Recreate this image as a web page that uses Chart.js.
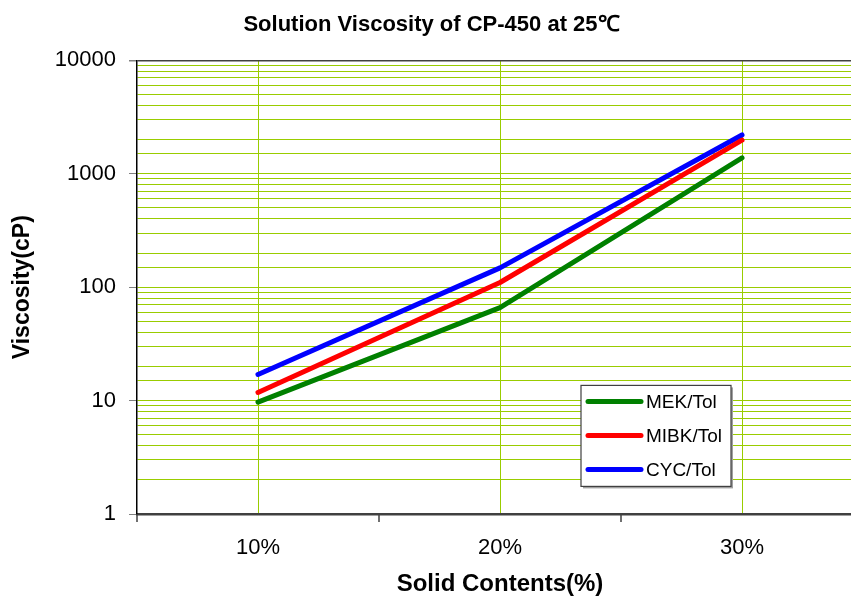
<!DOCTYPE html>
<html>
<head>
<meta charset="utf-8">
<script src="https://cdn.jsdelivr.net/npm/chart.js@4/dist/chart.umd.min.js"></script>
<style>
  html, body { margin: 0; padding: 0; background: #fff; overflow: hidden; }
  #wrap { width: 851px; height: 598px; overflow: hidden; }
</style>
</head>
<body>
<div id="wrap"><canvas id="chart" width="900" height="598"></canvas></div>
<script>
const categories = ['10%', '20%', '30%'];
const mekTol = [9.7, 66, 1380];
const mibkTol = [11.8, 110, 1980];
const cycTol = [17, 148, 2200];
const yTickLabels = [1, 10, 100, 1000, 10000];

const FONT = "'Liberation Sans', Arial, sans-serif";
const GRID_GREEN = '#99cc00';

// tick marks on category boundaries + excel-like legend box
const extras = {
  id: 'extras',
  afterDraw(chart){
    const ctx = chart.ctx;
    const x = chart.scales.x;
    const area = chart.chartArea;
    const half = (x.getPixelForValue(1) - x.getPixelForValue(0)) / 2;

    ctx.save();
    ctx.strokeStyle = '#404040';
    ctx.lineWidth = 1.5;
    for(let i = 0; i <= categories.length; i++){
      const px = x.getPixelForValue(0) - half + i * half * 2;
      ctx.beginPath();
      ctx.moveTo(px, area.bottom);
      ctx.lineTo(px, area.bottom + 8);
      ctx.stroke();
    }

    // legend
    const lx = area.left + 444, ly = area.top + 325, lw = 150, lh = 101;
    ctx.fillStyle = '#a0a0a0';
    ctx.fillRect(lx + 2, ly + 2, lw, lh);
    ctx.fillStyle = '#fff';
    ctx.fillRect(lx, ly, lw, lh);
    ctx.strokeStyle = '#404040';
    ctx.lineWidth = 1.2;
    ctx.strokeRect(lx, ly, lw, lh);

    ctx.font = '19px ' + FONT;
    ctx.textBaseline = 'middle';
    ctx.lineCap = 'round';
    chart.data.datasets.forEach((ds, i) => {
      const ry = ly + 16 + i * 34;
      ctx.strokeStyle = ds.borderColor;
      ctx.lineWidth = 5;
      ctx.beginPath();
      ctx.moveTo(lx + 7, ry);
      ctx.lineTo(lx + 60, ry);
      ctx.stroke();
      ctx.fillStyle = '#000';
      ctx.fillText(ds.label, lx + 65, ry + 1);
    });
    ctx.restore();
  }
};

const line = (label, data, color) => ({
  label, data,
  borderColor: color,
  backgroundColor: color,
  borderWidth: 5,
  borderCapStyle: 'round',
  borderJoinStyle: 'round',
  pointRadius: 0,
  tension: 0,
  fill: false
});

new Chart(document.getElementById('chart'), {
  type: 'line',
  data: {
    labels: categories,
    datasets: [
      line('MEK/Tol', mekTol, '#008000'),
      line('MIBK/Tol', mibkTol, '#ff0000'),
      line('CYC/Tol', cycTol, '#0000ff')
    ]
  },
  plugins: [extras],
  options: {
    responsive: false,
    animation: false,
    layout: { padding: { left: 0, right: 37, top: 0, bottom: 0 } },
    plugins: {
      legend: { display: false },
      tooltip: { enabled: false },
      title: {
        display: true,
        text: 'Solution Viscosity of CP-450 at 25℃',
        color: '#000',
        font: { family: FONT, size: 22, weight: 'bold' },
        padding: { top: 12, bottom: 22 }
      }
    },
    scales: {
      x: {
        offset: true,
        afterFit: s => { s.height = 84; },
        grid: {
          color: GRID_GREEN,
          lineWidth: 1,
          tickLength: 8,
          tickColor: 'rgba(0,0,0,0)'
        },
        border: { color: '#404040', width: 2.5 },
        ticks: {
          color: '#000',
          padding: 13,
          font: { family: FONT, size: 22 }
        },
        title: {
          display: true,
          text: 'Solid Contents(%)',
          color: '#000',
          font: { family: FONT, size: 24, weight: 'bold' },
          padding: { top: 0, bottom: -1 }
        }
      },
      y: {
        type: 'logarithmic',
        min: 1,
        max: 10000,
        afterFit: s => { s.width = 137; },
        grid: {
          color: c => (c.tick && c.tick.value === 10000) ? '#404040' : GRID_GREEN,
          lineWidth: c => (c.tick && c.tick.value === 10000) ? 1.5 : 1,
          tickLength: 8,
          tickColor: c => (c.tick && yTickLabels.includes(c.tick.value)) ? '#808080' : 'rgba(0,0,0,0)'
        },
        border: { color: '#000', width: 1.5 },
        ticks: {
          autoSkip: false,
          color: '#000',
          padding: 13,
          font: { family: FONT, size: 22 },
          callback: v => yTickLabels.includes(v) ? String(v) : ''
        },
        title: {
          display: true,
          text: 'Viscosity(cP)',
          color: '#000',
          font: { family: FONT, size: 23, weight: 'bold' },
          padding: { top: 9, bottom: 0 }
        }
      }
    }
  }
});
</script>
</body>
</html>
